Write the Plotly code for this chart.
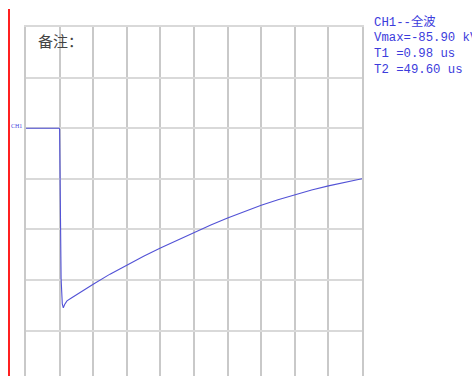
import plotly.graph_objects as go

# Waveform: time (us) and voltage (kV)
time_us = [0, 9.9, 10.0, 10.2, 10.45, 10.8, 11.1, 11.5, 12.2, 13.5, 15, 17.5, 20, 25, 30, 35, 40,
           45, 50, 55, 60, 65, 70, 75, 80, 85, 90, 95, 100]
volt_kv = [0, 0, -0.5, -30, -72, -84, -85.9, -84.3, -82.6, -81.2, -79.6, -77.0, -74.6, -69.8, -65.4,
           -61.2, -57.3, -53.6, -49.9, -46.3, -42.9, -39.8, -36.9, -34.2, -31.8, -29.6, -27.6, -25.8, -24.2]

info_lines = ["CH1--全波", "Vmax=-85.90 kV", "T1 =0.98 us", "T2 =49.60 us"]
note_text = "备注："
channel_label = "CH1"

W, H = 472, 376
ML, MR, MT, MB = 26, 110, 27, 0
PW, PH = W - ML - MR, H - MT - MB
DIV_KV = 24.2
Y_TOP = 2 * DIV_KV
Y_BOT = Y_TOP - PH / 50.6 * DIV_KV

def px_x(px):
    return (px - ML) / PW

def px_y(py):
    return (H - MB - py) / PH

fig = go.Figure()
fig.add_trace(go.Scatter(x=time_us, y=volt_kv, mode="lines",
                         line=dict(color="#5252d6", width=1.1), hoverinfo="skip",
                         showlegend=False))

grid_x = "#c9c9c9"
grid_y = "#d9d9d9"
fig.update_xaxes(range=[0, 100], tick0=0, dtick=10, showgrid=True, gridcolor=grid_x, gridwidth=1.5,
                 zeroline=False, showticklabels=False, ticks="", showline=True, side="top",
                 linecolor=grid_y, linewidth=1.5)
fig.update_yaxes(range=[Y_BOT, Y_TOP], tick0=0, dtick=DIV_KV, showgrid=True, gridcolor=grid_y,
                 gridwidth=1.5, zeroline=False, showticklabels=False, ticks="", showline=True,
                 mirror=True, linecolor=grid_x, linewidth=1.5)

# red marker line at left
fig.add_shape(type="line", xref="paper", yref="paper", x0=px_x(9), x1=px_x(9),
              y0=px_y(9), y1=px_y(H), line=dict(color="#ff2020", width=2))

mono = "Liberation Mono, Noto Sans CJK SC, monospace"
info_y = [22.5, 38, 53.8, 69.5]
for txt, py in zip(info_lines, info_y):
    fig.add_annotation(text=txt, xref="paper", yref="paper", x=px_x(372), y=px_y(py),
                       xanchor="left", yanchor="middle", showarrow=False,
                       font=dict(family=mono, size=12.3, color="#3c3cdc"))

fig.add_annotation(text=note_text, xref="paper", yref="paper", x=px_x(36), y=px_y(40),
                   xanchor="left", yanchor="middle", showarrow=False,
                   font=dict(family="Noto Sans CJK SC", size=15, color="#444444"))

fig.add_annotation(text=channel_label, xref="paper", yref="y", x=px_x(24), y=0,
                   xanchor="right", yanchor="bottom", showarrow=False, yshift=-3,
                   font=dict(family="Liberation Serif", size=6, color="#4a4ae0"))

fig.update_layout(width=W, height=H, margin=dict(l=ML, r=MR, t=MT, b=MB, pad=0),
                  paper_bgcolor="white", plot_bgcolor="white")

fig.write_html("out.html")
